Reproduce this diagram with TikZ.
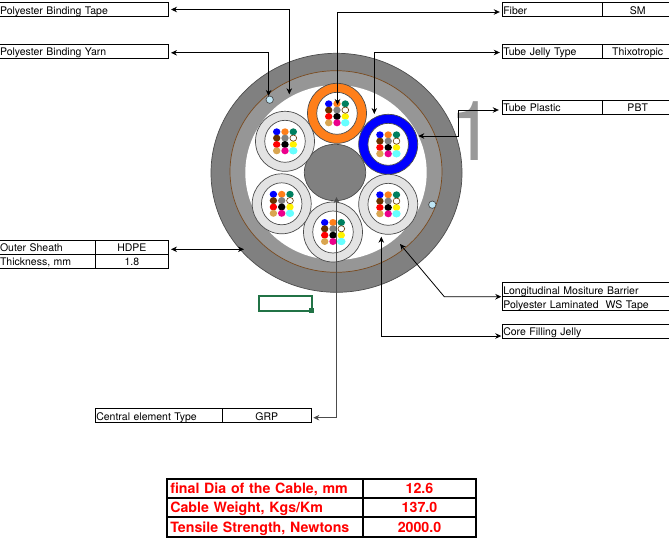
\documentclass[tikz,border=0pt]{standalone}
\usepackage{fontspec}
\setmainfont{TeX Gyre Heros}
\usetikzlibrary{shapes.geometric,positioning,arrows.meta}
\definecolor{sheathgray}{HTML}{808080}
\definecolor{bandgray}{HTML}{969696}
\definecolor{ringgray}{HTML}{E3E3E3}
\definecolor{barrierbrown}{HTML}{7A4A1E}
\definecolor{yarnblue}{HTML}{BFE6F5}
\definecolor{cursorgreen}{HTML}{217346}
\definecolor{fibgreen}{HTML}{008060}
\definecolor{fibbrown}{HTML}{663300}
\definecolor{fibtan}{HTML}{D9A550}
\definecolor{fibcyan}{HTML}{66FFFF}
\definecolor{fiborange}{HTML}{FF7F1A}
\tikzstyle{disc}=[draw=black!70,ellipse,inner sep=0pt,outer sep=0pt,line width=.7pt]
\tikzstyle{cell}=[draw,rectangle,inner sep=0pt,outer sep=0pt,minimum height=14,anchor=north west,
  line width=.8pt,text height=9.5,text depth=.5,font=\fontsize{10.5}{12}\selectfont]
\tikzstyle{redcell}=[cell,draw=none,text=red,minimum height=19.33,text height=11,text depth=1,
  font=\fontsize{14.2}{16}\selectfont\bfseries]
\tikzstyle{lead}=[{Stealth[length=6pt,width=5.5pt]}-{Stealth[length=6pt,width=5.5pt]},line width=.8pt]
% one tube: name, centre, ring colour
\newcommand{\tube}[4]{
  \node[disc,fill=#4,minimum width=59,minimum height=60] (#1) at (#2,#3) {};
  \node[disc,fill=white,minimum width=40.5,minimum height=42] (#1in) at (#2,#3) {};
  \foreach \fcol/\fx/\fy in {blue/-8.3/-9.5,fiborange/0/-9.5,fibgreen/8.3/-9.5,
    fibbrown/-8.3/-3.2,gray/0/-3.2,
    red/-8.3/3.2,black/0/3.2,yellow/8.3/3.2,
    fibtan/-8.3/9.5,magenta/0/9.5,fibcyan/8.3/9.5}
    \fill[\fcol] (#2+\fx,#3+\fy) ellipse (3.7 and 3.5);
  \fill[fibcyan] (#2+8.3,#3+9.5) ellipse (4.2 and 3.6);
  \draw[fibbrown,fill=white,line width=.6pt] (#2+8.3,#3-3.2) ellipse (3.4 and 3.1);
}
\begin{document}
\begin{tikzpicture}[x=1pt,y=-1pt,>=stealth]
  \useasboundingbox (0,0) rectangle (669,544);
  \clip (0,0) rectangle (669,544);

  % cable
  \node[disc,fill=sheathgray,minimum width=251,minimum height=239] (sheath) at (336.5,172.8) {};
  \node[ellipse,draw=barrierbrown,fill=bandgray,inner sep=0pt,line width=.7pt,
    minimum width=212,minimum height=201.6] (barrier) at (336,171.5) {};
  \node[ellipse,fill=white,inner sep=0pt,minimum width=181.4,minimum height=175] (core) at (336,172.5) {};
  \node[disc,fill=sheathgray,minimum width=61.4,minimum height=56.4] (centre) at (335,172.5) {};

  \tube{tube1}{337}{113.3}{fiborange}
  \tube{tube2}{388.2}{144.3}{blue}
  \tube{tube3}{388.2}{204.3}{ringgray}
  \tube{tube4}{333}{232}{ringgray}
  \tube{tube5}{281.7}{203.8}{ringgray}
  \tube{tube6}{285}{141.3}{ringgray}

  \node[disc,fill=yarnblue,circle,minimum size=7.4] (yarn1) at (269.7,99.7) {};
  \node[disc,fill=yarnblue,circle,minimum size=7.4] (yarn2) at (432.3,204.7) {};

  \node[text=black!40,font=\fontsize{83}{83}\selectfont,inner sep=0pt,anchor=base east] (bigone) at (496,160.7) {1};

  % left boxes
  \node[cell,minimum width=169.5,text width=169.5,align=left] (tape) at (-1,2.5) {\hspace{1pt}Polyester Binding Tape};
  \node[cell,minimum width=169.5,text width=169.5,align=left] (yarn) at (-1,44.3) {\hspace{1pt}Polyester Binding Yarn};
  \node[cell,text width=96.3,align=left] (outer) at (-1,240.3) {\hspace{1pt}Outer Sheath};
  \node[cell,text width=73.2,align=center,anchor=west] (outerv) at (outer.east) {HDPE};
  \node[cell,text width=96.3,align=left] (thick) at (outer.south west) {\hspace{1pt}Thickness, mm};
  \node[cell,text width=73.2,align=center,anchor=west] (thickv) at (thick.east) {1.8};

  % right boxes
  \node[cell,text width=100.4,align=left] (fiber) at (502.3,2.5) {\hspace{1pt}Fiber};
  \node[cell,text width=70,align=center,anchor=west] (fiberv) at (fiber.east) {SM};
  \node[cell,text width=100.4,align=left] (jelly) at (502.3,44.3) {\hspace{1pt}Tube Jelly Type};
  \node[cell,text width=70,align=center,anchor=west] (jellyv) at (jelly.east) {Thixotropic};
  \node[cell,text width=100.4,align=left] (plastic) at (502.3,100) {\hspace{1pt}Tube Plastic};
  \node[cell,text width=70,align=center,anchor=west] (plasticv) at (plastic.east) {PBT};
  \node[cell,text width=170,align=left] (moist) at (502.3,282.7) {\hspace{1pt}Longitudinal Mositure Barrier};
  \node[cell,text width=170,align=left] (ws) at (moist.south west) {\hspace{1pt}Polyester Laminated\ \ WS Tape};
  \node[cell,text width=170,align=left] (filling) at (502.3,324.3) {\hspace{1pt}Core Filling Jelly};

  % central element box
  \node[cell,text width=127,align=left] (element) at (95.3,408.7) {\hspace{1pt}Central element Type};
  \node[cell,text width=89,align=center,anchor=west] (elementv) at (element.east) {GRP};

  % selected sheet cell
  \node[draw=cursorgreen,line width=1.6pt,inner sep=0pt,outer sep=0pt,minimum width=53,minimum height=15,anchor=north west] (cursor) at (259,296) {};
  \node[fill=cursorgreen,inner sep=0pt,minimum size=4.6] (handle) at (311.4,310.2) {};

  % result table
  \node[redcell,text width=195.4,align=left] (dia) at (167.3,478.7) {\hspace{3pt}final Dia of the Cable, mm};
  \node[redcell,text width=113.6,align=center,anchor=west] (diav) at (dia.east) {12.6};
  \node[redcell,text width=195.4,align=left] (weight) at (dia.south west) {\hspace{3pt}Cable Weight, Kgs/Km};
  \node[redcell,text width=113.6,align=center,anchor=west] (weightv) at (weight.east) {137.0};
  \node[redcell,text width=195.4,align=left] (tensile) at (weight.south west) {\hspace{3pt}Tensile Strength, Newtons};
  \node[redcell,text width=113.6,align=center,anchor=west] (tensilev) at (tensile.east) {2000.0};
  \draw[line width=2pt] (dia.north west) rectangle (tensilev.south east);
  \draw[line width=2pt] (diav.north west) -- (tensilev.south west);
  \draw[line width=2pt] (dia.south west) -- (diav.south east);
  \draw[line width=2pt] (weight.south west) -- (weightv.south east);

  % leader ends
  \coordinate (tapeend) at (289.3,94.3);
  \coordinate (yarnend) at (268.6,96);
  \coordinate (fiberend) at (337.5,105);
  \coordinate (jellyend) at (374.3,114);
  \coordinate (plasticbend) at (458.3,110);
  \coordinate (plasticend) at (418.3,136);
  \coordinate (outerend) at (244,249.3);
  \coordinate (moistend) at (400,244);
  \coordinate (moistbend) at (444.3,296.7);
  \coordinate (fillingend) at (381.3,236.7);
  \coordinate (elementend) at (336.5,197);

  \draw[lead] (tape.east) ++(2.5,0) -| (tapeend);
  \draw[lead] (yarn.east) ++(2.5,1.5) -| (yarnend);
  \draw[lead] (fiber.west) ++(-2.5,2.5) -| (fiberend);
  \draw[lead] (jelly.west) ++(-2.5,1.2) -| (jellyend);
  \draw[lead] (plastic.west) ++(-3.5,3) -- (plasticbend) |- (plasticend);
  \draw[lead] (outerv.east) ++(2.5,2) -- (outerend);
  \draw[lead] (moist.south west) ++(-1,0) -- (moistbend) -- (moistend);
  \draw[lead] (filling.west) ++(-1,4.7) -| (fillingend);
  \draw[lead,black!70] (elementv.east) ++(2,2) -| (elementend);
\end{tikzpicture}
\end{document}
